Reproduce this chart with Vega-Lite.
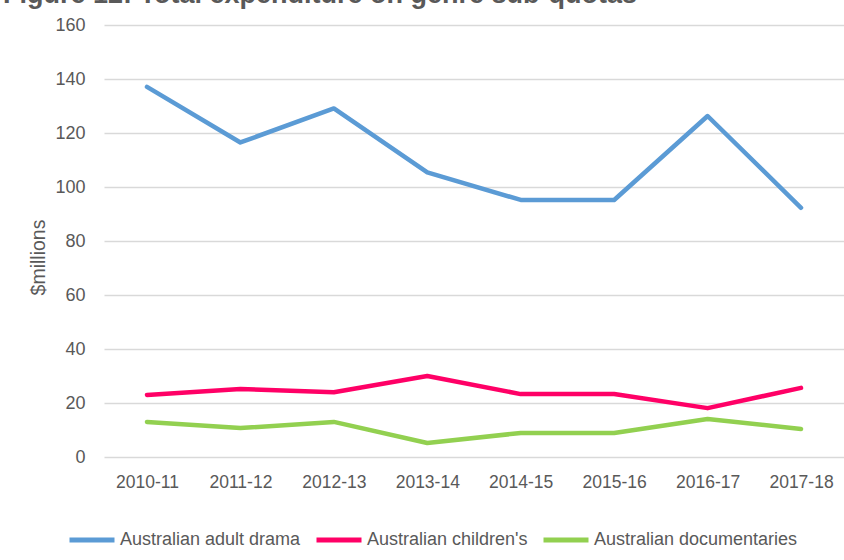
{
  "$schema": "https://vega.github.io/schema/vega-lite/v6.json",
  "width": 740,
  "height": 432,
  "autosize": {"type": "none"},
  "padding": {"left": 104, "top": 25, "right": 0, "bottom": 103},
  "background": "white",
  "title": {
    "text": "Figure 12: Total expenditure on genre sub-quotas",
    "anchor": "start",
    "dx": -26,
    "dy": -3,
    "font": "Liberation Sans",
    "fontSize": 27,
    "fontWeight": "bold",
    "color": "#595959"
  },
  "data": {
    "values": [
      {"year": "2010-11", "series": "Australian adult drama", "value": 137.1},
      {"year": "2011-12", "series": "Australian adult drama", "value": 116.5},
      {"year": "2012-13", "series": "Australian adult drama", "value": 129.1},
      {"year": "2013-14", "series": "Australian adult drama", "value": 105.4},
      {"year": "2014-15", "series": "Australian adult drama", "value": 95.2},
      {"year": "2015-16", "series": "Australian adult drama", "value": 95.2},
      {"year": "2016-17", "series": "Australian adult drama", "value": 126.3},
      {"year": "2017-18", "series": "Australian adult drama", "value": 92.3},
      {"year": "2010-11", "series": "Australian children's", "value": 23.0},
      {"year": "2011-12", "series": "Australian children's", "value": 25.2},
      {"year": "2012-13", "series": "Australian children's", "value": 24.0},
      {"year": "2013-14", "series": "Australian children's", "value": 30.0},
      {"year": "2014-15", "series": "Australian children's", "value": 23.3},
      {"year": "2015-16", "series": "Australian children's", "value": 23.3},
      {"year": "2016-17", "series": "Australian children's", "value": 18.1},
      {"year": "2017-18", "series": "Australian children's", "value": 25.6},
      {"year": "2010-11", "series": "Australian documentaries", "value": 13.0},
      {"year": "2011-12", "series": "Australian documentaries", "value": 10.7},
      {"year": "2012-13", "series": "Australian documentaries", "value": 13.0},
      {"year": "2013-14", "series": "Australian documentaries", "value": 5.2},
      {"year": "2014-15", "series": "Australian documentaries", "value": 8.9},
      {"year": "2015-16", "series": "Australian documentaries", "value": 8.9},
      {"year": "2016-17", "series": "Australian documentaries", "value": 14.1},
      {"year": "2017-18", "series": "Australian documentaries", "value": 10.4}
    ]
  },
  "mark": {"type": "line", "strokeWidth": 4.5, "strokeCap": "round", "strokeJoin": "round"},
  "encoding": {
    "x": {
      "field": "year",
      "type": "ordinal",
      "scale": {"type": "point", "padding": 0.46},
      "axis": {
        "title": null,
        "labelAngle": 0,
        "domain": false,
        "ticks": false,
        "labelPadding": 16,
        "labelFont": "Liberation Sans",
        "labelFontSize": 17.5,
        "labelColor": "#595959"
      }
    },
    "y": {
      "field": "value",
      "type": "quantitative",
      "scale": {"domain": [0, 160], "nice": false},
      "axis": {
        "title": "$millions",
        "values": [0, 20, 40, 60, 80, 100, 120, 140, 160],
        "domain": false,
        "ticks": false,
        "grid": true,
        "gridColor": "#D9D9D9",
        "gridWidth": 1.4,
        "labelPadding": 19,
        "labelFont": "Liberation Sans",
        "labelFontSize": 18,
        "labelColor": "#595959",
        "titleFont": "Liberation Sans",
        "titleFontSize": 19.5,
        "titleFontWeight": "normal",
        "titleColor": "#595959",
        "titlePadding": 6,
        "titleY": 232,
        "titleAlign": "center"
      }
    },
    "color": {
      "field": "series",
      "type": "nominal",
      "scale": {
        "domain": ["Australian adult drama", "Australian children's", "Australian documentaries"],
        "range": ["#5B9BD5", "#FF0066", "#92D050"]
      },
      "legend": {
        "title": null,
        "orient": "none",
        "direction": "horizontal",
        "legendX": -37,
        "legendY": 490,
        "symbolType": "stroke",
        "symbolSize": 2025,
        "symbolStrokeWidth": 5,
        "labelOffset": 3,
        "columnPadding": 5,
        "labelFont": "Liberation Sans",
        "labelFontSize": 18,
        "labelColor": "#595959",
        "labelLimit": 400
      }
    }
  },
  "config": {
    "view": {"stroke": null}
  }
}
